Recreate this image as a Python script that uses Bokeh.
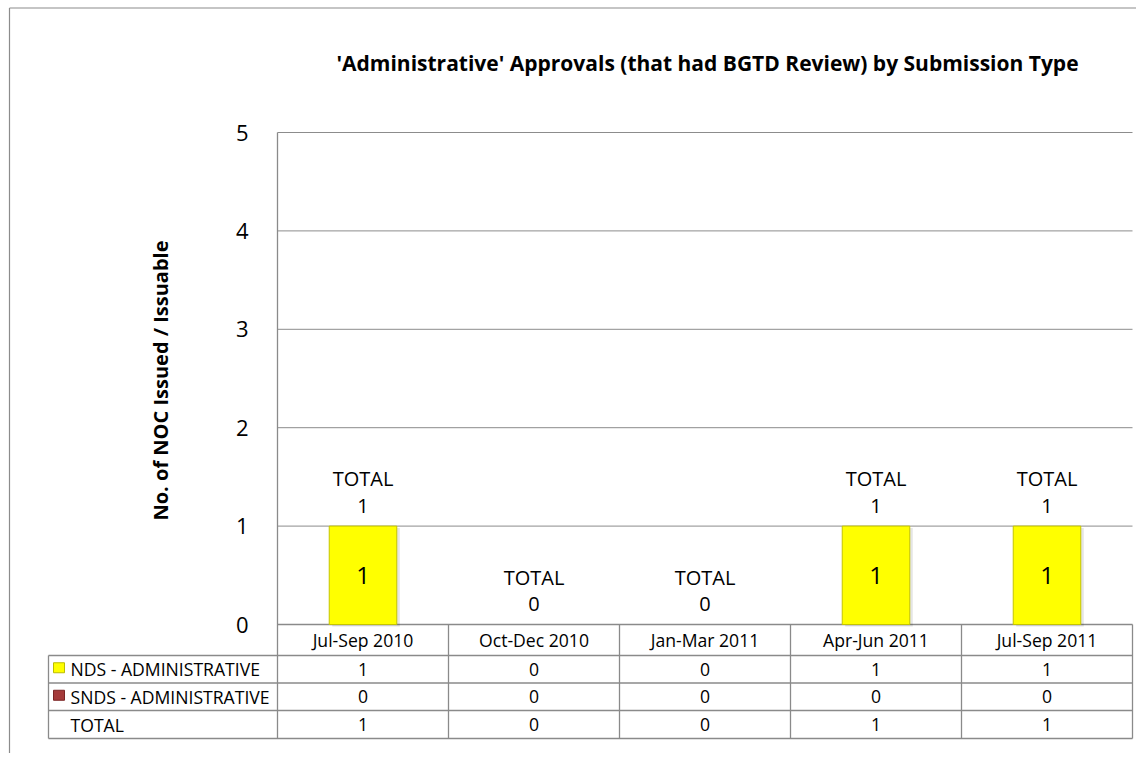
from bokeh.plotting import figure
from bokeh.models import Range1d, ColumnDataSource
from bokeh.core.properties import value
from bokeh.embed import file_html
from bokeh.resources import INLINE

# ---------------- data ----------------
categories = ["Jul-Sep 2010", "Oct-Dec 2010", "Jan-Mar 2011", "Apr-Jun 2011", "Jul-Sep 2011"]
nds_admin = [1, 0, 0, 1, 1]
snds_admin = [0, 0, 0, 0, 0]
totals = [1, 0, 0, 1, 1]
y_ticks = [0, 1, 2, 3, 4, 5]
series_names = ["NDS - ADMINISTRATIVE", "SNDS - ADMINISTRATIVE", "TOTAL"]
title_text = "'Administrative' Approvals (that had BGTD Review) by Submission Type"
y_title = "No. of NOC Issued / Issuable"

# ---------------- layout helpers (image pixels -> data) ----------------
X0_PX, CAT_W = 277.0, 171.0
Y0_PX, UNIT = 624.0, 98.4


def xd(px):
    return (px - X0_PX) / CAT_W


def yd(py):
    return (Y0_PX - py) / UNIT


W, H = 1136, 753
FONT = value("Open Sans")
GRID = "#8c8c8c"
TLINE = "#8a8a8a"

p = figure(width=W, height=H, output_backend="svg", toolbar_location=None,
           x_range=Range1d(xd(0), xd(W)), y_range=Range1d(yd(H), yd(0)),
           min_border=0, min_border_left=0, min_border_right=0,
           min_border_top=0, min_border_bottom=0)
p.xaxis.visible = False
p.yaxis.visible = False
p.grid.visible = False
p.outline_line_color = None
p.background_fill_color = "white"
p.border_fill_color = "white"

n = len(categories)
centers = [i + 0.5 for i in range(n)]
ymax = max(y_ticks)

# outer chart-area frame (only left and top edges visible)
p.segment(x0=[xd(9), xd(9)], y0=[yd(7.5), yd(7.5)], x1=[xd(9), xd(1200)], y1=[yd(800), yd(7.5)],
          line_color="#8c8c8c", line_width=1.2)

# title
p.text(x=[xd(707)], y=[yd(62)], text=[title_text], text_font=FONT, text_font_style="bold",
       text_font_size=value("21px"), text_align="center", text_baseline="middle", text_color="black")

# y-axis title
p.text(x=[xd(160)], y=[yd(380)], text=[y_title], angle=1.5708, text_font=FONT, text_font_style="bold",
       text_font_size=value("20px"), text_align="center", text_baseline="middle", text_color="black")

# gridlines (1..5)
grid_vals = [t for t in y_ticks if t > 0]
p.segment(x0=[0] * len(grid_vals), x1=[n] * len(grid_vals), y0=grid_vals, y1=grid_vals,
          line_color=GRID, line_width=1)

# y tick labels
p.text(x=[xd(248)] * len(y_ticks), y=y_ticks, text=[str(t) for t in y_ticks], text_font=FONT,
       text_font_size=value("22px"), text_align="right", text_baseline="middle", text_color="black")

# ---------------- table geometry ----------------
row_px = [624, 655, 682.5, 710, 738]
row_y = [yd(v) for v in row_px]
left_col = xd(48)

p.segment(x0=[0], x1=[0], y0=[ymax], y1=[row_y[-1]], line_color=TLINE, line_width=1.3)
p.segment(x0=[0], x1=[n], y0=[row_y[0]], y1=[row_y[0]], line_color=TLINE, line_width=1.3)
p.segment(x0=[left_col] * 4, x1=[n] * 4, y0=row_y[1:], y1=row_y[1:], line_color=TLINE, line_width=1.3)
p.segment(x0=list(range(1, n + 1)), x1=list(range(1, n + 1)), y0=[row_y[0]] * n, y1=[row_y[-1]] * n,
          line_color=TLINE, line_width=1.3)
p.segment(x0=[left_col], x1=[left_col], y0=[row_y[1]], y1=[row_y[-1]], line_color=TLINE, line_width=1.3)

TFS = value("17.6px")
hy = (row_y[0] + row_y[1]) / 2
p.text(x=centers, y=[hy] * n, text=categories, text_font=FONT, text_font_size=TFS,
       text_align="center", text_baseline="middle", text_color="black")
rows = [nds_admin, snds_admin, totals]
for r, vals in enumerate(rows):
    ry = (row_y[r + 1] + row_y[r + 2]) / 2
    p.text(x=centers, y=[ry] * n, text=[str(v) for v in vals], text_font=FONT, text_font_size=TFS,
           text_align="center", text_baseline="middle", text_color="black")
    p.text(x=[xd(70)], y=[ry], text=[series_names[r]], text_font=FONT, text_font_size=TFS,
           text_align="left", text_baseline="middle", text_color="black")

# legend swatches in table
sw_y = [(row_y[1] + row_y[2]) / 2 + 1.5 / UNIT, (row_y[2] + row_y[3]) / 2 + 1.5 / UNIT]
p.rect(x=[xd(58.5)] * 2, y=sw_y, width=[11 / CAT_W] * 2, height=[10 / UNIT] * 2,
       fill_color=["#ffff00", "#a43a3a"], line_color=["#bdbd00", "#7a2424"], line_width=1)

# ---------------- bars ----------------
BW = 0.395
# soft shadow
sh_x = [c + 3 / CAT_W for c, v in zip(centers, nds_admin) if v > 0]
sh_top = [v - 2 / UNIT for v in nds_admin if v > 0]
p.vbar(x=sh_x, bottom=[-2 / UNIT] * len(sh_x), top=sh_top, width=BW,
       fill_color="#000000", fill_alpha=0.10, line_color=None)

nds_src = ColumnDataSource(dict(x=[c for c, v in zip(centers, nds_admin) if v > 0],
                                top=[v for v in nds_admin if v > 0]))
p.vbar(x="x", bottom=0, top="top", width=BW, source=nds_src, fill_color="#ffff00",
       line_color="#c4c400", line_width=1)
snds_src = ColumnDataSource(dict(x=[c for c, v in zip(centers, snds_admin) if v > 0],
                                 bottom=[a for a, v in zip(nds_admin, snds_admin) if v > 0],
                                 top=[a + v for a, v in zip(nds_admin, snds_admin) if v > 0]))
p.vbar(x="x", bottom="bottom", top="top", width=BW, source=snds_src, fill_color="#a43a3a",
       line_color="#7a2424", line_width=1)

# labels inside bars (non-zero only)
in_x = [c for c, v in zip(centers, nds_admin) if v > 0]
in_y = [v / 2 for v in nds_admin if v > 0]
in_t = [str(v) for v in nds_admin if v > 0]
p.text(x=in_x, y=in_y, text=in_t, text_font=FONT, text_font_size=value("24px"),
       text_align="center", text_baseline="middle", text_color="black")

# TOTAL labels above stacks
p.text(x=centers, y=[t + 0.48 for t in totals], text=["TOTAL"] * n, text_font=FONT,
       text_font_size=value("20px"), text_align="center", text_baseline="middle", text_color="black")
p.text(x=centers, y=[t + 0.205 for t in totals], text=[str(t) for t in totals], text_font=FONT,
       text_font_size=value("20px"), text_align="center", text_baseline="middle", text_color="black")

open("out.html", "w").write(file_html(p, INLINE))
